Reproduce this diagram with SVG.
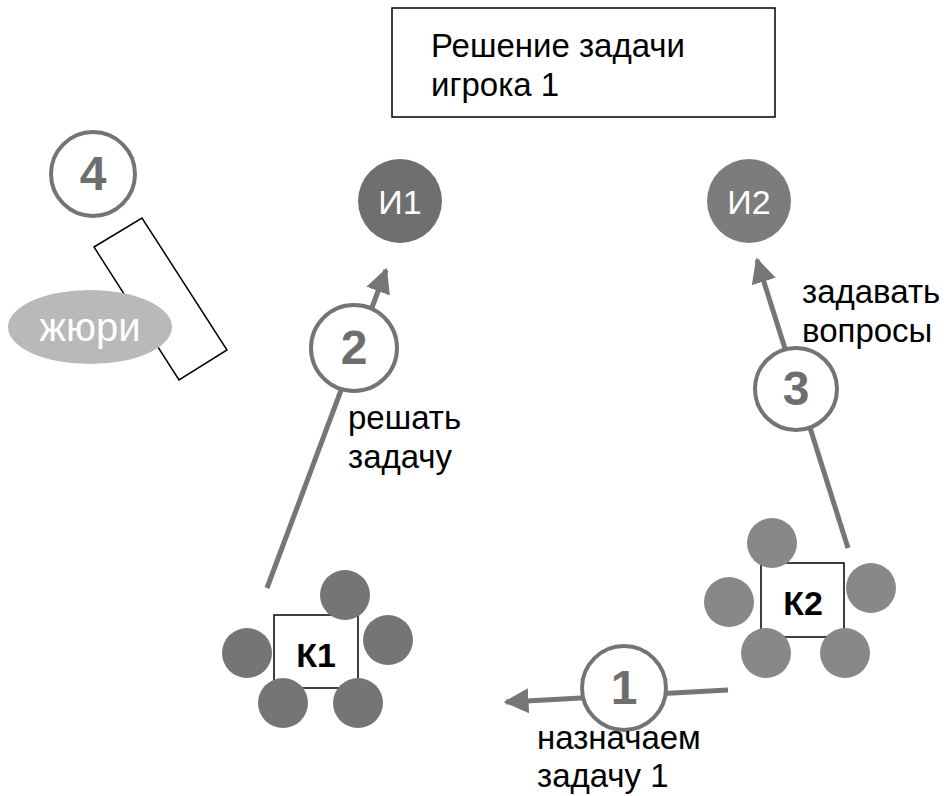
<svg xmlns="http://www.w3.org/2000/svg" width="947" height="796" viewBox="0 0 947 796">
<style>
text{font-family:"Helvetica","Liberation Sans",Arial,sans-serif}
.lbl{font-size:33px;fill:#000}
.num{fill:#fff;stroke:#747474;stroke-width:4}
.numt{font-size:48px;font-weight:bold;fill:#6e6e6e;text-anchor:middle}
.conn{stroke:#767676;stroke-width:5;fill:none;marker-end:url(#ah)}
.p1{fill:#757575}
.p2{fill:#888}
.kt{font-size:34px;font-weight:bold;text-anchor:middle;fill:#000}
.box{fill:#fff;stroke:#000;stroke-width:1.5}
</style>
<defs>
<marker id="ah" viewBox="0 0 10 10" refX="9" refY="5" markerWidth="5" markerHeight="5" orient="auto" markerUnits="strokeWidth">
<path d="M0,0 L10,5 L0,10 z" fill="#767676"/>
</marker>
</defs>
<rect width="947" height="796" fill="#fff"/>
<g id="title">
<rect x="392" y="8" width="383" height="109" class="box"/>
<text x="431" y="57" class="lbl">Решение задачи</text>
<text x="431" y="96" class="lbl">игрока 1</text>
</g>
<g id="jury">
<polygon points="94,247 142,218 227,350 179,380" class="box"/>
<ellipse cx="90" cy="327" rx="82" ry="37" fill="#b9b9b9"/>
<text x="90" y="341" font-size="40" fill="#fff" text-anchor="middle">жюри</text>
</g>
<g id="connectors">
<line x1="267" y1="588" x2="386" y2="270" class="conn"/>
<line x1="848" y1="548" x2="757" y2="260" class="conn"/>
<line x1="728" y1="690" x2="506" y2="702" class="conn"/>
</g>
<g id="n4"><circle cx="93" cy="174" r="42" class="num"/><text x="93" y="190" class="numt">4</text></g>
<g id="n2"><circle cx="354" cy="348" r="43" class="num"/><text x="354" y="364" class="numt">2</text></g>
<g id="n3"><circle cx="796" cy="389" r="41" class="num"/><text x="796" y="405" class="numt">3</text></g>
<g id="n1"><circle cx="624" cy="688" r="42" class="num"/><text x="624" y="704" class="numt">1</text></g>
<g id="i1"><circle cx="400" cy="201" r="42" fill="#6f6f6f"/><text x="400" y="214" font-size="34" fill="#fff" text-anchor="middle">И1</text></g>
<g id="i2"><circle cx="749" cy="201" r="42" fill="#7c7c7c"/><text x="749" y="214" font-size="34" fill="#fff" text-anchor="middle">И2</text></g>
<g id="labels">
<text x="348" y="429" class="lbl">решать</text>
<text x="348" y="468" class="lbl">задачу</text>
<text x="802" y="303" class="lbl">задавать</text>
<text x="802" y="342" class="lbl">вопросы</text>
<text x="537" y="749" class="lbl">назначаем</text>
<text x="537" y="787" class="lbl">задачу 1</text>
</g>
<g id="k1">
<rect x="274" y="615" width="84" height="73" class="box"/>
<text x="316" y="667" class="kt">К1</text>
<circle cx="345" cy="595" r="25" class="p1"/>
<circle cx="388" cy="640" r="25" class="p1"/>
<circle cx="247" cy="653" r="25" class="p1"/>
<circle cx="283" cy="703" r="25" class="p1"/>
<circle cx="358" cy="703" r="25" class="p1"/>
</g>
<g id="k2">
<rect x="761" y="563" width="83" height="74" class="box"/>
<text x="803" y="615" class="kt">К2</text>
<circle cx="772" cy="543" r="25" class="p2"/>
<circle cx="729" cy="602" r="25" class="p2"/>
<circle cx="871" cy="588" r="25" class="p2"/>
<circle cx="766" cy="653" r="25" class="p2"/>
<circle cx="845" cy="653" r="25" class="p2"/>
</g>
</svg>
